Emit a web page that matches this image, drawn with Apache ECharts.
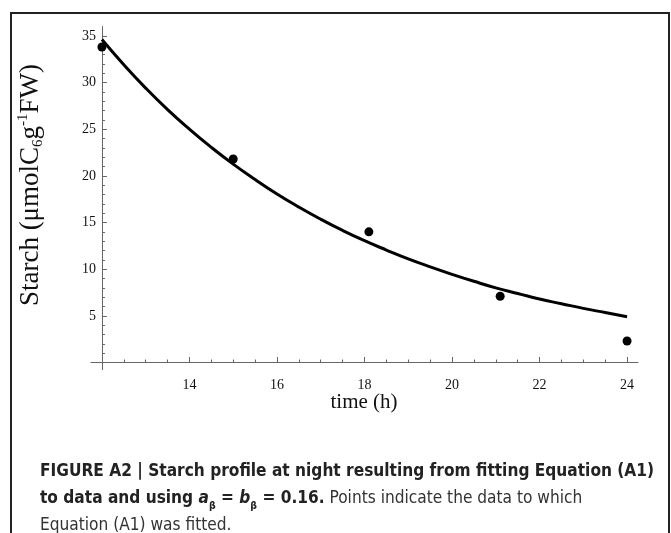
<!DOCTYPE html>
<html>
<head>
<meta charset="utf-8">
<style>
  html, body { margin: 0; padding: 0; background: #fff; }
  #chart { width: 671px; height: 533px; }
</style>
<script src="https://cdn.jsdelivr.net/npm/echarts@6/dist/echarts.min.js"></script>
</head>
<body>
<div id="chart"></div>
<script>
// Measured starch content (µmol C6 per g FW) at night
const sampleHours = [12, 15, 18.1, 21.1, 24];
const sampleStarch = [33.8, 21.8, 14.0, 7.1, 2.3];

// Fitted curve of Equation (A1), sampled every half hour
const fitHours = [12, 12.5, 13, 13.5, 14, 14.5, 15, 15.5, 16, 16.5, 17, 17.5, 18,
                  18.5, 19, 19.5, 20, 20.5, 21, 21.5, 22, 22.5, 23, 23.5, 24];
const fitStarch = [34.6, 31.9, 29.4, 27.1, 25.0, 23.05, 21.25, 19.6, 18.05, 16.65, 15.35, 14.15, 13.05,
                   12.05, 11.1, 10.25, 9.45, 8.7, 8.0, 7.4, 6.8, 6.3, 5.8, 5.35, 4.9];

// Axis ticks
const xMajorTicks = [14, 16, 18, 20, 22, 24];
const xMinorTicks = [12.5, 13, 13.5, 14.5, 15, 15.5, 16.5, 17, 17.5, 18.5, 19, 19.5,
                     20.5, 21, 21.5, 22.5, 23, 23.5];
const yMajorTicks = [5, 10, 15, 20, 25, 30, 35];
const yMinorTicks = [1, 2, 3, 4, 6, 7, 8, 9, 11, 12, 13, 14, 16, 17, 18, 19, 21, 22, 23, 24,
                     26, 27, 28, 29, 31, 32, 33, 34];

const serif = '"Liberation Serif", "Times New Roman", serif';
const narrow = '"DejaVu Sans Condensed", "Liberation Sans", sans-serif';
const axisColor = '#666';
const X_MIN = 11.75, X_MAX = 24.25, Y_MIN = -0.75, Y_MAX = 36;
// the vertical axis stands at t = 12 h, inside the left edge of the grid
const Y_AXIS_SHIFT = -(12 - X_MIN) * (547 / (X_MAX - X_MIN));

function xAxisLayer(ticks, len, labels) {
  return {
    type: 'value', position: 'bottom', min: X_MIN, max: X_MAX,
    axisLine: { show: labels, onZero: true, lineStyle: { color: axisColor, width: 1 } },
    axisTick: { inside: true, length: len, customValues: ticks, lineStyle: { color: axisColor } },
    axisLabel: labels
      ? { customValues: ticks, fontFamily: serif, fontSize: 14, color: '#111', margin: 9 }
      : { show: false },
    splitLine: { show: false }
  };
}
function yAxisLayer(ticks, len, labels) {
  return {
    type: 'value', position: 'left', min: Y_MIN, max: Y_MAX, offset: Y_AXIS_SHIFT,
    axisLine: { show: labels, onZero: false, lineStyle: { color: axisColor, width: 1 } },
    axisTick: { inside: true, length: len, customValues: ticks, lineStyle: { color: axisColor } },
    axisLabel: labels
      ? { customValues: ticks, fontFamily: serif, fontSize: 14, color: '#111', margin: 6 }
      : { show: false },
    splitLine: { show: false }
  };
}

const chart = echarts.init(document.getElementById('chart'), null, { renderer: 'canvas' });

chart.setOption({
  backgroundColor: '#fff',
  animation: false,
  grid: { left: 91, top: 26.5, width: 547, height: 343, containLabel: false },
  xAxis: [xAxisLayer(xMajorTicks, 5.5, true), xAxisLayer(xMinorTicks, 3, false)],
  yAxis: [yAxisLayer(yMajorTicks, 5, true), yAxisLayer(yMinorTicks, 3, false)],
  series: [
    {
      type: 'line',
      xAxisIndex: 0, yAxisIndex: 0,
      data: fitHours.map((t, i) => [t, fitStarch[i]]),
      smooth: true,
      showSymbol: false,
      lineStyle: { color: '#000', width: 3 },
      z: 2
    },
    {
      type: 'scatter',
      xAxisIndex: 0, yAxisIndex: 0,
      data: sampleHours.map((t, i) => [t, sampleStarch[i]]),
      symbol: 'circle',
      symbolSize: 9,
      itemStyle: { color: '#000', opacity: 1 },
      z: 3
    }
  ],
  graphic: [
    // frame around the figure
    {
      type: 'rect', silent: true,
      shape: { x: 11, y: 13, width: 658, height: 560 },
      style: { fill: 'none', stroke: '#222', lineWidth: 2 }
    },
    // vertical axis title
    {
      type: 'text', silent: true,
      x: 31, y: 185, rotation: Math.PI / 2,
      style: {
        text: '{n|Starch (μmolC}{sub|6}{n|g}{sup|-1}{n|FW)}',
        align: 'center', verticalAlign: 'middle',
        rich: {
          n: { fontFamily: serif, fontSize: 27, lineHeight: 30, fill: '#111' },
          sub: { fontFamily: serif, fontSize: 15, lineHeight: 15, verticalAlign: 'bottom', fill: '#111' },
          sup: { fontFamily: serif, fontSize: 15, lineHeight: 15, verticalAlign: 'top', fill: '#111' }
        }
      }
    },
    // horizontal axis title
    {
      type: 'text', silent: true,
      x: 364, y: 402,
      style: {
        text: 'time (h)', fontFamily: serif, fontSize: 21, fill: '#111',
        align: 'center', verticalAlign: 'middle'
      }
    },
    // caption
    {
      type: 'text', silent: true,
      x: 40, y: 458, scaleX: 0.952,
      style: {
        text: '{b|FIGURE A2 | Starch profile at night resulting from fitting Equation (A1)}\n' +
              '{b|to data and using }{bi|a}{sub|β}{b| = }{bi|b}{sub|β}{b| = 0.16.}{r| Points indicate the data to which}\n' +
              '{r|Equation (A1) was fitted.}',
        align: 'left', verticalAlign: 'top',
        rich: {
          b: { fontFamily: narrow, fontWeight: 'bold', fontSize: 18, lineHeight: 27, fill: '#222' },
          bi: { fontFamily: narrow, fontWeight: 'bold', fontStyle: 'italic', fontSize: 18, lineHeight: 27, fill: '#222' },
          sub: { fontFamily: narrow, fontWeight: 'bold', fontSize: 11, lineHeight: 21, verticalAlign: 'bottom', fill: '#222' },
          r: { fontFamily: narrow, fontSize: 18, lineHeight: 27, fill: '#333' }
        }
      }
    }
  ]
});
</script>
</body>
</html>
